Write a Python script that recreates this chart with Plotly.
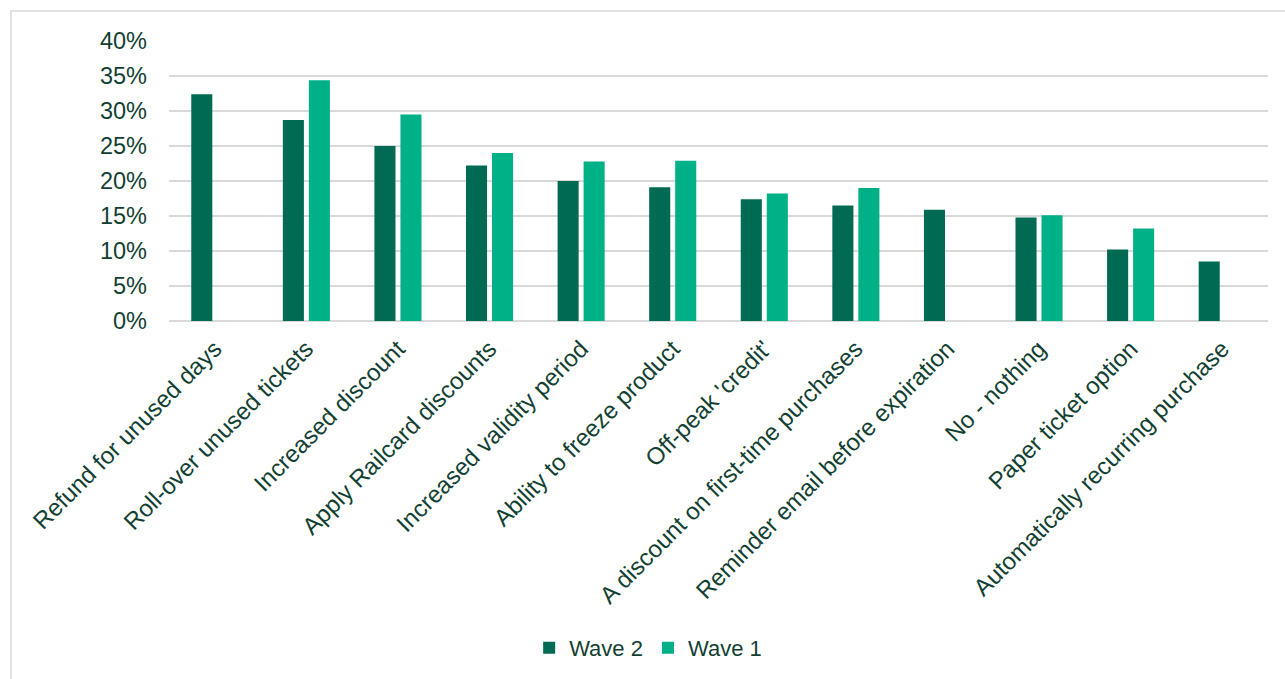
import plotly.graph_objects as go

categories = [
    "Refund for unused days",
    "Roll-over unused tickets",
    "Increased discount",
    "Apply Railcard discounts",
    "Increased validity period",
    "Ability to freeze product",
    "Off-peak 'credit'",
    "A discount on first-time purchases",
    "Reminder email before expiration",
    "No - nothing",
    "Paper ticket option",
    "Automatically recurring purchase",
]
wave2 = [32.4, 28.7, 25.0, 22.2, 20.0, 19.1, 17.4, 16.5, 15.9, 14.8, 10.2, 8.5]
wave1 = [None, 34.4, 29.5, 24.0, 22.8, 22.9, 18.2, 19.0, None, 15.1, 13.2, None]
y_ticks = [0, 5, 10, 15, 20, 25, 30, 35, 40]
y_tick_text = [f"{v}%" for v in y_ticks]

DARK = "#006A52"
LIGHT = "#00B187"
TEXT = "#123F33"
GRID = "#D9D9D9"
FONT = "Liberation Sans, Arial, sans-serif"

W, H = 1285, 679
L, R, T, B = 169, 17, 41, 357

fig = go.Figure()
fig.add_trace(go.Bar(name="Wave 2", x=categories, y=wave2, marker_color=DARK,
                     marker_line_width=0))
fig.add_trace(go.Bar(name="Wave 1", x=categories, y=wave1, marker_color=LIGHT,
                     marker_line_width=0))

pw, ph = W - L - R, H - T - B


def px_to_paper(x, y):
    return (x - L) / pw, (H - B - y) / ph


x0, y0 = px_to_paper(11, 11)
x1, y1 = px_to_paper(1300, 700)

fig.update_layout(
    width=W, height=H,
    margin=dict(l=L, r=R, t=T, b=B),
    paper_bgcolor="white", plot_bgcolor="white",
    barmode="group", bargap=0.432, bargroupgap=0.19,
    font=dict(family=FONT, size=22, color=TEXT),
    showlegend=True,
    legend=dict(orientation="h", x=0.436, xanchor="center", y=-1.16, yanchor="middle",
                font=dict(family=FONT, size=22, color=TEXT),
                itemwidth=30, traceorder="normal"),
    shapes=[dict(type="rect", xref="paper", yref="paper", x0=x0, y0=y0, x1=x1, y1=y1,
                 line=dict(color=GRID, width=1.5), fillcolor="rgba(0,0,0,0)", layer="below")],
)
fig.update_xaxes(tickangle=-45, showgrid=False, showline=False, ticks="",
                 ticklabelstandoff=8,
                 tickfont=dict(family=FONT, size=24, color=TEXT))
fig.update_yaxes(range=[0, 40], tickvals=y_ticks, ticktext=y_tick_text,
                 showgrid=True, gridcolor=GRID, gridwidth=1.5,
                 zeroline=True, zerolinecolor=GRID, zerolinewidth=1.5,
                 ticks="", ticklabelstandoff=21,
                 tickfont=dict(family=FONT, size=23.5, color=TEXT))

fig.write_html("out.html")
